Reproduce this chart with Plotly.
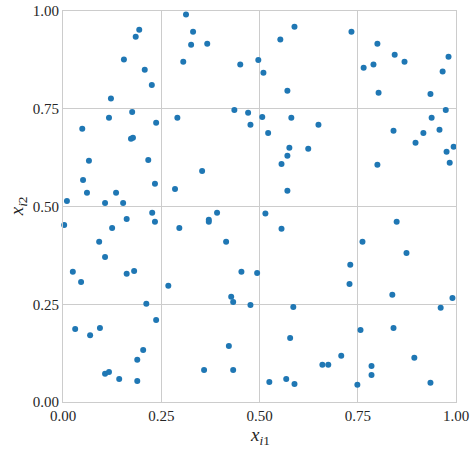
import plotly.graph_objects as go

x_i1 = [0.010, 0.049, 0.066, 0.051, 0.061, 0.107, 0.135, 0.153, 0.122, 0.117,
        0.155, 0.185, 0.194, 0.208, 0.226, 0.176, 0.173, 0.178, 0.237, 0.217,
        0.234, 0.227, 0.285, 0.354, 0.291, 0.306, 0.313, 0.331, 0.326, 0.367,
        0.392, 0.436, 0.471, 0.477, 0.451, 0.497, 0.510, 0.507,
        0.589, 0.553, 0.571, 0.734, 0.800, 0.765, 0.790, 0.844, 0.869, 0.981,
        0.966, 0.803, 0.935, 0.974, 0.938, 0.958, 0.917, 0.897, 0.976, 0.994,
        0.984, 0.841, 0.800, 0.581, 0.650, 0.522, 0.576, 0.624, 0.571, 0.556,
        0.571, 0.515,
        0.003, 0.162, 0.125, 0.234, 0.092, 0.107, 0.025, 0.046, 0.162, 0.181,
        0.268, 0.212, 0.237, 0.031, 0.094, 0.069, 0.204, 0.189, 0.107, 0.117,
        0.143, 0.189, 0.296, 0.371, 0.371, 0.415, 0.454, 0.494, 0.428, 0.433,
        0.477, 0.422, 0.359, 0.433,
        0.556, 0.586, 0.578, 0.525, 0.568, 0.589, 0.660, 0.675, 0.708, 0.849,
        0.762, 0.874, 0.731, 0.729, 0.838, 0.991, 0.961, 0.757, 0.841, 0.894,
        0.785, 0.785, 0.749, 0.935]
x_i2 = [0.514, 0.699, 0.617, 0.568, 0.535, 0.509, 0.535, 0.509, 0.776, 0.727,
        0.876, 0.934, 0.952, 0.850, 0.811, 0.742, 0.673, 0.676, 0.714, 0.619,
        0.558, 0.484, 0.545, 0.591, 0.727, 0.870, 0.991, 0.947, 0.914, 0.916,
        0.484, 0.747, 0.740, 0.709, 0.863, 0.875, 0.842, 0.729,
        0.960, 0.927, 0.796, 0.947, 0.916, 0.855, 0.863, 0.888, 0.870, 0.883,
        0.845, 0.791, 0.788, 0.747, 0.727, 0.696, 0.688, 0.663, 0.640, 0.653,
        0.612, 0.694, 0.607, 0.727, 0.709, 0.688, 0.650, 0.648, 0.630, 0.609,
        0.540, 0.482,
        0.453, 0.468, 0.445, 0.461, 0.410, 0.371, 0.333, 0.307, 0.328, 0.335,
        0.297, 0.251, 0.210, 0.187, 0.189, 0.171, 0.133, 0.108, 0.072, 0.077,
        0.059, 0.054, 0.445, 0.466, 0.461, 0.410, 0.333, 0.330, 0.269, 0.256,
        0.248, 0.143, 0.082, 0.082,
        0.443, 0.243, 0.164, 0.051, 0.059, 0.046, 0.095, 0.095, 0.118, 0.461,
        0.410, 0.381, 0.351, 0.302, 0.274, 0.266, 0.241, 0.184, 0.189, 0.113,
        0.092, 0.069, 0.044, 0.049]

tick_vals = [0.0, 0.25, 0.5, 0.75, 1.0]
tick_text = ["0.00", "0.25", "0.50", "0.75", "1.00"]

fig = go.Figure(go.Scatter(
    x=x_i1, y=x_i2, mode="markers",
    marker=dict(color="#1f77b4", size=6, line=dict(width=0)),
    cliponaxis=False, showlegend=False, hoverinfo="skip",
))

font_family = "Liberation Serif, Times New Roman, serif"
axis_common = dict(
    range=[0, 1], tickvals=tick_vals, ticktext=tick_text,
    showgrid=True, gridcolor="#cccccc", gridwidth=1,
    showline=True, linecolor="#cccccc", linewidth=1, mirror=True,
    zeroline=False, ticks="", automargin=False,
    tickfont=dict(size=15, color="#262626", family=font_family),
)

fig.update_layout(
    width=473, height=451,
    margin=dict(l=63, r=17, t=11, b=49),
    plot_bgcolor="white", paper_bgcolor="white",
    font=dict(family=font_family, color="#262626"),
    xaxis=dict(**axis_common),
    yaxis=dict(**axis_common),
    annotations=[
        dict(text="<i>x</i><sub><i>i</i>1</sub>", xref="paper", yref="paper",
             x=0.5, y=-0.088, xanchor="center", yanchor="middle", showarrow=False,
             font=dict(size=19, family=font_family, color="#262626")),
        dict(text="<i>x</i><sub><i>i</i>2</sub>", xref="paper", yref="paper",
             x=-0.115, y=0.5, xanchor="center", yanchor="middle", showarrow=False,
             textangle=-90,
             font=dict(size=19, family=font_family, color="#262626")),
    ],
)

fig.write_html("out.html", config={"displayModeBar": False},
               post_script="document.body.style.margin='0';document.body.style.padding='0';")
